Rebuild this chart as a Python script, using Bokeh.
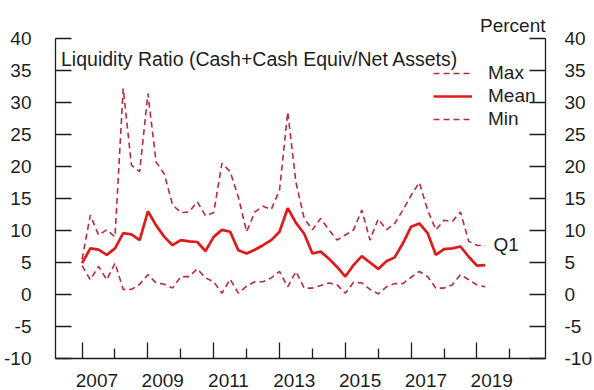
from bokeh.plotting import figure
from bokeh.models import (Range1d, LinearAxis, FixedTicker, Legend, LegendItem,
                          Label, ColumnDataSource, CustomJSTickFormatter,
                          CustomLabelingPolicy)
from bokeh.embed import file_html
from bokeh.resources import INLINE

# ---------------- data (quarterly, 2006Q4 .. 2019Q1) ----------------
quarters = [
    "2006Q4",
    "2007Q1", "2007Q2", "2007Q3", "2007Q4",
    "2008Q1", "2008Q2", "2008Q3", "2008Q4",
    "2009Q1", "2009Q2", "2009Q3", "2009Q4",
    "2010Q1", "2010Q2", "2010Q3", "2010Q4",
    "2011Q1", "2011Q2", "2011Q3", "2011Q4",
    "2012Q1", "2012Q2", "2012Q3", "2012Q4",
    "2013Q1", "2013Q2", "2013Q3", "2013Q4",
    "2014Q1", "2014Q2", "2014Q3", "2014Q4",
    "2015Q1", "2015Q2", "2015Q3", "2015Q4",
    "2016Q1", "2016Q2", "2016Q3", "2016Q4",
    "2017Q1", "2017Q2", "2017Q3", "2017Q4",
    "2018Q1", "2018Q2", "2018Q3", "2018Q4",
    "2019Q1",
]
max_vals = [5.5, 12.4, 9.3, 10.1, 9.0, 32.2, 20.2, 19.2, 31.4, 20.7,
            18.8, 14.0, 12.8, 12.9, 14.5, 12.3, 12.8, 20.5, 19.2, 15.2,
            9.8, 12.9, 13.8, 13.3, 16.3, 28.5, 17.5, 11.9, 10.1, 11.9,
            10.1, 8.5, 9.3, 10.1, 13.2, 8.5, 11.8, 10.1, 11.1, 13.2,
            15.5, 17.5, 13.2, 10.1, 11.6, 11.4, 12.9, 8.3, 7.7, 7.6]
mean_vals = [4.9, 7.2, 7.0, 6.2, 7.2, 9.6, 9.4, 8.5, 13.0, 10.8,
             9.0, 7.7, 8.5, 8.3, 8.2, 6.8, 9.0, 10.1, 9.8, 6.9,
             6.4, 7.0, 7.7, 8.5, 9.8, 13.5, 11.2, 9.5, 6.4, 6.7,
             5.6, 4.3, 2.8, 4.6, 6.0, 5.0, 4.0, 5.2, 5.8, 8.0,
             10.6, 11.1, 9.6, 6.2, 7.1, 7.2, 7.5, 5.9, 4.5, 4.6]
min_vals = [4.5, 2.3, 4.4, 2.3, 4.9, 0.8, 0.8, 1.6, 3.1, 1.8,
            1.6, 1.0, 2.8, 2.8, 4.0, 2.6, 2.0, 0.2, 2.4, 0.2,
            1.3, 2.0, 2.0, 2.6, 3.6, 1.2, 3.6, 1.0, 1.0, 1.4,
            1.8, 1.5, 0.2, 1.9, 1.8, 0.8, 0.1, 1.2, 1.7, 1.7,
            2.7, 3.6, 2.8, 1.0, 1.0, 1.5, 3.1, 2.3, 1.5, 1.2]

year_labels = ["2007", "2009", "2011", "2013", "2015", "2017", "2019"]
y_ticks = [-10, -5, 0, 5, 10, 15, 20, 25, 30, 35, 40]

# quarter-end position in decimal years
def qpos(q):
    return int(q[:4]) + int(q[5]) / 4.0

xs = [qpos(q) for q in quarters]
src = ColumnDataSource(dict(x=xs, mx=max_vals, mn=min_vals, me=mean_vals))

FONT = "Liberation Sans"
TXT = "#1e1e1e"
RED = "#e01a1a"
DRED = "#b92a3a"
FS = "19px"

p = figure(width=594, height=390,
           x_range=Range1d(2006.192, 2021.084), y_range=Range1d(-10, 40),
           output_backend="svg", toolbar_location=None,
           min_border_left=55, min_border_right=47,
           min_border_top=38, min_border_bottom=32)
p.outline_line_color = None
p.grid.visible = False
p.background_fill_color = "white"
p.border_fill_color = "white"

# "Percent" unit label, right-aligned over the frame
p.title.text = "Percent"
p.title.align = "right"
p.title.text_font = FONT
p.title.text_font_size = FS
p.title.text_font_style = "normal"
p.title.text_color = TXT
p.title.standoff = 6

r_max = p.line("x", "mx", source=src, line_color=DRED, line_width=1.6, line_dash="6 4")
r_mean = p.line("x", "me", source=src, line_color=RED, line_width=2.7)
r_min = p.line("x", "mn", source=src, line_color=DRED, line_width=1.6, line_dash="6 4")

# ---- x axis: ticks (odd years long, even years short), labels suppressed ----
major_years = [int(y) for y in year_labels]
minor_years = [y + 1 for y in major_years]
xa = p.xaxis[0]
xa.ticker = FixedTicker(ticks=major_years, minor_ticks=minor_years)
xa.major_tick_in = 16
xa.major_tick_out = 0
xa.minor_tick_in = 10
xa.minor_tick_out = 0
xa.major_label_text_font_size = "1px"
xa.major_label_standoff = 0
xa.major_label_policy = CustomLabelingPolicy(
    code="const all = [...indices]; for (const i of all) indices.unset(i); return indices;")
xa.axis_line_color = TXT
xa.axis_line_width = 1.3
xa.major_tick_line_color = TXT
xa.major_tick_line_width = 1.3
xa.minor_tick_line_color = TXT
xa.minor_tick_line_width = 1.3

# ---- x axis labels centred in the year ----
xb = LinearAxis(ticker=FixedTicker(ticks=[y + 0.45 for y in major_years], minor_ticks=[]),
                formatter=CustomJSTickFormatter(code="return String(Math.floor(tick));"))
xb.axis_line_color = None
xb.major_tick_line_color = None
xb.minor_tick_line_color = None
xb.major_label_standoff = 5
xb.major_label_text_font = FONT
xb.major_label_text_font_size = FS
xb.major_label_text_color = TXT
p.add_layout(xb, "below")

# ---- y axes ----
def style_y(ax_, standoff):
    ax_.ticker = FixedTicker(ticks=y_ticks, minor_ticks=[])
    ax_.formatter = CustomJSTickFormatter(code="return String(Math.round(tick));")
    ax_.major_tick_in = 16
    ax_.major_tick_out = 0
    ax_.minor_tick_line_color = None
    ax_.axis_line_color = TXT
    ax_.axis_line_width = 1.3
    ax_.major_tick_line_color = TXT
    ax_.major_tick_line_width = 1.3
    ax_.major_label_standoff = standoff
    ax_.major_label_text_font = FONT
    ax_.major_label_text_font_size = FS
    ax_.major_label_text_color = TXT

style_y(p.yaxis[0], 24)
yr = LinearAxis()
style_y(yr, 19)
p.add_layout(yr, "right")

# ---- legend ----
legend = Legend(items=[LegendItem(label="Max", renderers=[r_max]),
                       LegendItem(label="Mean", renderers=[r_mean]),
                       LegendItem(label="Min", renderers=[r_min])],
                location=(378, 228), orientation="vertical",
                glyph_width=39, glyph_height=20, label_height=20,
                label_standoff=16, spacing=1, padding=0, margin=0,
                border_line_color=None, background_fill_alpha=0,
                label_text_font=FONT, label_text_font_size=FS,
                label_text_color=TXT)
p.add_layout(legend)

# ---- text annotations ----
p.add_layout(Label(x=2006.36, y=36.72, text="Liquidity Ratio (Cash+Cash Equiv/Net Assets)",
                   text_font=FONT, text_font_size="19.5px", text_color=TXT,
                   text_baseline="middle", text_align="left"))
p.add_layout(Label(x=2019.5, y=7.75, text="Q1",
                   text_font=FONT, text_font_size=FS, text_color=TXT,
                   text_baseline="middle", text_align="left"))

open("out.html", "w").write(file_html(p, INLINE))
